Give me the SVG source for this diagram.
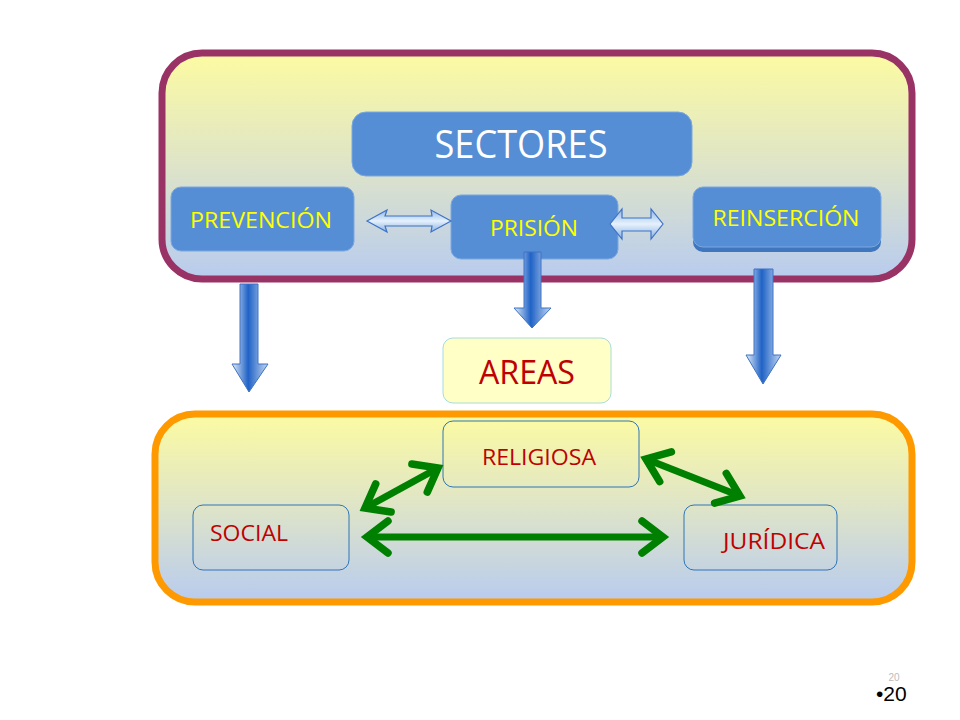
<svg xmlns="http://www.w3.org/2000/svg" width="960" height="720" viewBox="0 0 960 720">
<defs>
<linearGradient id="bg" x1="0" y1="0" x2="0" y2="1">
<stop offset="0" stop-color="#FCFBA2"/>
<stop offset="0.5" stop-color="#DEE4C8"/>
<stop offset="1" stop-color="#B8CBEF"/>
</linearGradient>
<linearGradient id="down" x1="0" y1="0" x2="1" y2="0">
<stop offset="0" stop-color="#E4EEFA"/>
<stop offset="0.45" stop-color="#1F62C6"/>
<stop offset="1" stop-color="#C4D8F2"/>
</linearGradient>
<linearGradient id="dbl" x1="0" y1="0" x2="0" y2="1">
<stop offset="0" stop-color="#8DB6E6"/>
<stop offset="0.5" stop-color="#E6F1FC"/>
<stop offset="1" stop-color="#86B0E2"/>
</linearGradient>
<marker id="chev" viewBox="-30 -30 60 60" markerWidth="60" markerHeight="60" markerUnits="userSpaceOnUse" refX="0" refY="0" orient="auto-start-reverse" overflow="visible">
<polyline points="-21,-16 0,0 -21,16" fill="none" stroke="#008000" stroke-width="7.5" stroke-linecap="round" stroke-linejoin="miter"/>
</marker>
<style>
.outer{fill:url(#bg)}
.sec{fill:#558ED5;stroke:#7AA8E0;stroke-width:1}
.ytxt{font-family:"Open Sans","Liberation Sans",sans-serif;fill:#FFFF00;font-size:21px;font-weight:500;text-anchor:middle}
.rtxt{font-family:"Open Sans","Liberation Sans",sans-serif;fill:#C00000;font-size:21px}
.area{fill:none;stroke:#2E75B6;stroke-width:1}
.down{fill:url(#down);stroke:#3E72C4;stroke-width:1}
.dbl{fill:url(#dbl);stroke:#3E72C4;stroke-width:1.2}
.green{fill:none;stroke:#008000;stroke-width:7;marker-start:url(#chev);marker-end:url(#chev)}
</style>
</defs>
<rect width="960" height="720" fill="#FFFFFF"/>

<g id="sectores-panel">
<rect class="outer" x="162" y="53" width="750" height="226" rx="40" stroke="#993366" stroke-width="7"/>
</g>
<g id="areas-panel">
<rect class="outer" x="155" y="414" width="757" height="188" rx="40" stroke="#FF9900" stroke-width="7"/>
</g>

<g id="sectores">
<rect class="sec" x="352" y="112" width="340" height="64" rx="14"/>
<text x="521" y="158" font-family="Open Sans, Liberation Sans, sans-serif" font-size="38" fill="#FFFFFF" text-anchor="middle" textLength="173" lengthAdjust="spacingAndGlyphs">SECTORES</text>
</g>
<g id="prevencion">
<rect class="sec" x="171" y="187" width="183" height="64" rx="10"/>
<text class="ytxt" x="261" y="228" textLength="142" lengthAdjust="spacingAndGlyphs">PREVENCIÓN</text>
</g>
<g id="prision">
<rect class="sec" x="451" y="195" width="167" height="64" rx="10"/>
<text class="ytxt" x="534" y="236" textLength="88" lengthAdjust="spacingAndGlyphs">PRISIÓN</text>
</g>
<g id="reinsercion">
<rect x="693" y="190" width="188" height="62" rx="10" fill="#3F76BE"/>
<rect class="sec" x="693" y="187" width="188" height="60" rx="10"/>
<text class="ytxt" x="786" y="226" textLength="147" lengthAdjust="spacingAndGlyphs">REINSERCIÓN</text>
</g>
<g id="areas">
<rect x="443" y="338" width="168" height="65" rx="10" fill="#FFFFC6" stroke="#A6DCDC" stroke-width="1"/>
<text x="527" y="384" font-family="Open Sans, Liberation Sans, sans-serif" font-size="32" fill="#C00000" text-anchor="middle" textLength="96" lengthAdjust="spacingAndGlyphs">AREAS</text>
</g>
<g id="religiosa">
<rect class="area" x="443" y="421" width="196" height="66" rx="10"/>
<text class="rtxt" x="482" y="465" textLength="114" lengthAdjust="spacingAndGlyphs">RELIGIOSA</text>
</g>
<g id="social">
<rect class="area" x="193" y="505" width="156" height="65" rx="10"/>
<text class="rtxt" x="210" y="541" textLength="78" lengthAdjust="spacingAndGlyphs">SOCIAL</text>
</g>
<g id="juridica">
<rect class="area" x="684" y="505" width="153" height="65" rx="10"/>
<text class="rtxt" x="723" y="549" textLength="102" lengthAdjust="spacingAndGlyphs">JURÍDICA</text>
</g>

<g id="connectors">
<polygon class="dbl" points="367,221 387,210 385,216 432,216 431,210 451,221 431,232 432,226 385,226 387,232"/>
<polygon class="dbl" points="610,224 622,209 622,218 651,218 651,209 663,224 651,239 651,231 622,231 622,239"/>
<polygon class="down" points="240,284 258,284 258,364 268,364 249,392 232,364 240,364"/>
<polygon class="down" points="524,252 541,252 541,308 551,308 532,328 514,308 524,308"/>
<polygon class="down" points="754,269 773,269 773,355 781,355 763,384 746,355 754,355"/>
<line class="green" x1="365" y1="508" x2="438" y2="468"/>
<line class="green" x1="646" y1="459" x2="740" y2="496"/>
<line class="green" x1="367" y1="537" x2="663" y2="537"/>
</g>

<g id="page-number">
<text x="894" y="681" font-family="Liberation Sans, sans-serif" font-size="10" fill="#BBBBBB" text-anchor="middle">20</text>
<text x="876" y="701" font-family="Liberation Sans, sans-serif" font-size="21" fill="#000000">•20</text>
</g>
</svg>
